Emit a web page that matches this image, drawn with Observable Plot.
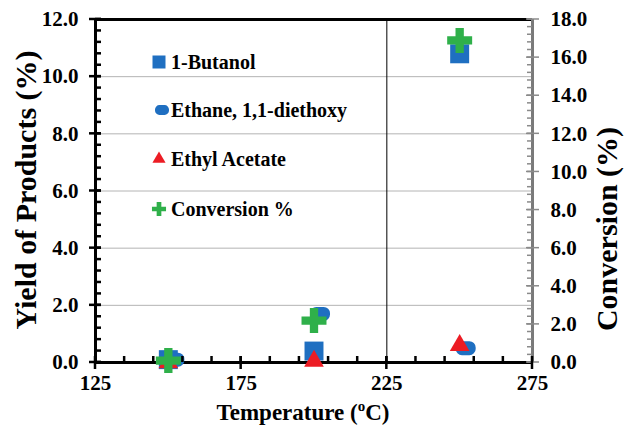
<!DOCTYPE html>
<html><head><meta charset="utf-8">
<script src="https://cdn.jsdelivr.net/npm/d3@7"></script>
<script src="https://cdn.jsdelivr.net/npm/@observablehq/plot@0.6"></script>
<style>
body{margin:0;background:#fff;}
#wrap{position:relative;width:625px;height:433px;}
</style></head><body><div id="wrap"></div>
<script>
// ---- data ----
const temps = [150, 200, 250];
const butanol = [0.1, 0.4, 10.8];
const diethoxy = [0.1, 1.7, 0.5];
const ethylAcetate = [0.0, 0.05, 0.6];
const conversion = [0.1, 2.2, 16.9];
const seriesNames = ["1-Butanol", "Ethane, 1,1-diethoxy", "Ethyl Acetate", "Conversion %"];
const xTicks = [125, 175, 225, 275];
const yTicks = [0, 2, 4, 6, 8, 10, 12];
const convTicks = [0, 2, 4, 6, 8, 10, 12, 14, 16, 18];
const gridTicks = [2, 4, 6, 8, 10];

const BLUE = "#1f6fc1", GREEN = "#2fb04a", RED = "#ec1c24";
const FONT = "'Liberation Serif', 'Times New Roman', serif";
const k = 12 / 18; // conversion -> left axis units

const xMinor = d3.range(135, 275, 10);
const yMinor = d3.range(0, 12.001, 0.4);
const convMinor = d3.range(0, 18.001, 0.4);

const blob = {
  draw(ctx, size) {
    const w = Math.sqrt(size), h = w * 0.7, r = h * 0.45;
    const x0 = -w / 2, y0 = -h / 2;
    ctx.moveTo(x0 + r, y0);
    ctx.lineTo(x0 + w - r, y0);
    ctx.arcTo(x0 + w, y0, x0 + w, y0 + r, r);
    ctx.lineTo(x0 + w, y0 + h - r);
    ctx.arcTo(x0 + w, y0 + h, x0 + w - r, y0 + h, r);
    ctx.lineTo(x0 + r, y0 + h);
    ctx.arcTo(x0, y0 + h, x0, y0 + h - r, r);
    ctx.lineTo(x0, y0 + r);
    ctx.arcTo(x0, y0, x0 + r, y0, r);
    ctx.closePath();
  }
};

const rows = (vals) => temps.map((t, i) => ({t, v: vals[i]}));

const chart = Plot.plot({
  width: 625, height: 433,
  marginLeft: 95, marginRight: 93, marginTop: 19, marginBottom: 71,
  style: {fontFamily: FONT, fontWeight: "bold", color: "black", background: "white"},
  x: {domain: [125, 275]},
  y: {domain: [0, 12]},
  marks: [
    Plot.gridY(gridTicks, {stroke: "#b4b4b4", strokeOpacity: 1, strokeWidth: 1}),
    Plot.ruleX([225], {stroke: "black", strokeWidth: 1}),
    // frame
    Plot.ruleY([12], {stroke: "black", strokeWidth: 3}),
    Plot.ruleX([275], {stroke: "#7a7a7a", strokeWidth: 3}),
    Plot.ruleX([125], {stroke: "black", strokeWidth: 3}),
    Plot.ruleY([0], {stroke: "black", strokeWidth: 3}),
    // tick labels
    Plot.axisY({ticks: yTicks, tickSize: 0, tickPadding: 17, tickFormat: d => d.toFixed(1), fontSize: 21, label: null, fill: "black"}),
    Plot.axisY({anchor: "right", ticks: convTicks.map(v => v * k), tickSize: 0, tickPadding: 18, tickFormat: d => (d / k).toFixed(1), fontSize: 21, label: null, fill: "black"}),
    Plot.axisX({ticks: xTicks, tickSize: 0, tickPadding: 13, fontSize: 21, label: null, fill: "black"}),
    // data
    Plot.dot(rows(butanol), {x: "t", y: "v", symbol: "square", r: 10.7, fill: BLUE}),
    Plot.dot(rows(diethoxy), {x: "t", y: "v", symbol: blob, r: 11.3, fill: BLUE, dx: 6}),
    Plot.dot(rows(ethylAcetate), {x: "t", y: "v", symbol: "triangle", r: 7.3, fill: RED}),
    Plot.dot(rows(conversion), {x: "t", y: d => d.v * k, symbol: "cross", r: 10.5, fill: GREEN})
  ]
});
document.getElementById("wrap").appendChild(chart);

const svg = d3.select(chart);
const sx = chart.scale("x"), sy = chart.scale("y");
const X0 = sx.apply(125), X1 = sx.apply(275), Y0 = sy.apply(0);

// tick marks, positioned with the chart's own scales
const tk = svg.append("g");
function yTick(v, x, a, b, color, w) {
  const y = sy.apply(v);
  tk.append("line").attr("x1", x + a).attr("x2", x + b).attr("y1", y).attr("y2", y)
    .attr("stroke", color).attr("stroke-width", w);
}
function xTick(v, a, b) {
  const x = sx.apply(v);
  tk.append("line").attr("x1", x).attr("x2", x).attr("y1", Y0 + a).attr("y2", Y0 + b)
    .attr("stroke", "black").attr("stroke-width", 2.5);
}
yMinor.forEach(v => yTick(v, X0, 0, 6, "black", 2.5));
yTicks.forEach(v => yTick(v, X0, -6, 6, "black", 2.5));
convMinor.forEach(v => yTick(v * k, X1, -5, 0, "#8a8a8a", 1.5));
convTicks.forEach(v => yTick(v * k, X1, -6, 7, "#8a8a8a", 1.5));
xMinor.forEach(v => xTick(v, -6, 0));
xTicks.forEach(v => xTick(v, -6, 7));

// axis titles
const xl = svg.append("text").attr("x", 303).attr("y", 420).attr("text-anchor", "middle")
  .attr("font-size", 23).attr("font-weight", "bold").attr("font-family", FONT).attr("fill", "black");
xl.append("tspan").text("Temperature (");
xl.append("tspan").attr("font-size", 15).attr("dy", -9).text("o");
xl.append("tspan").attr("dy", 9).text("C)");

svg.append("text").attr("transform", "translate(36,190) rotate(-90)").attr("text-anchor", "middle")
  .attr("font-size", 30).attr("font-weight", "bold").attr("font-family", FONT).attr("fill", "black")
  .text("Yield of Products (%)");
svg.append("text").attr("transform", "translate(617,229) rotate(-90)").attr("text-anchor", "middle")
  .attr("font-size", 30).attr("font-weight", "bold").attr("font-family", FONT).attr("fill", "black")
  .text("Conversion (%)");

// legend
const legSyms = [
  {sym: d3.symbolSquare, size: 13 * 13, fill: BLUE},
  {sym: blob, size: 14 * 14, fill: BLUE, dx: 3},
  {sym: d3.symbolTriangle, size: 75, fill: RED},
  {sym: d3.symbolCross, size: 110, fill: GREEN}
];
const legY = [62, 110, 159, 209];
const lg = svg.append("g").attr("text-anchor", "start");
seriesNames.forEach((name, i) => {
  const s = legSyms[i];
  lg.append("path").attr("d", d3.symbol(s.sym, s.size)()).attr("fill", s.fill)
    .attr("transform", `translate(${159 + (s.dx || 0)},${legY[i]})`);
  lg.append("text").attr("x", 171).attr("y", legY[i] + 7).attr("font-size", 20)
    .attr("font-weight", "bold").attr("font-family", FONT).attr("fill", "black").text(name);
});
</script></body></html>
